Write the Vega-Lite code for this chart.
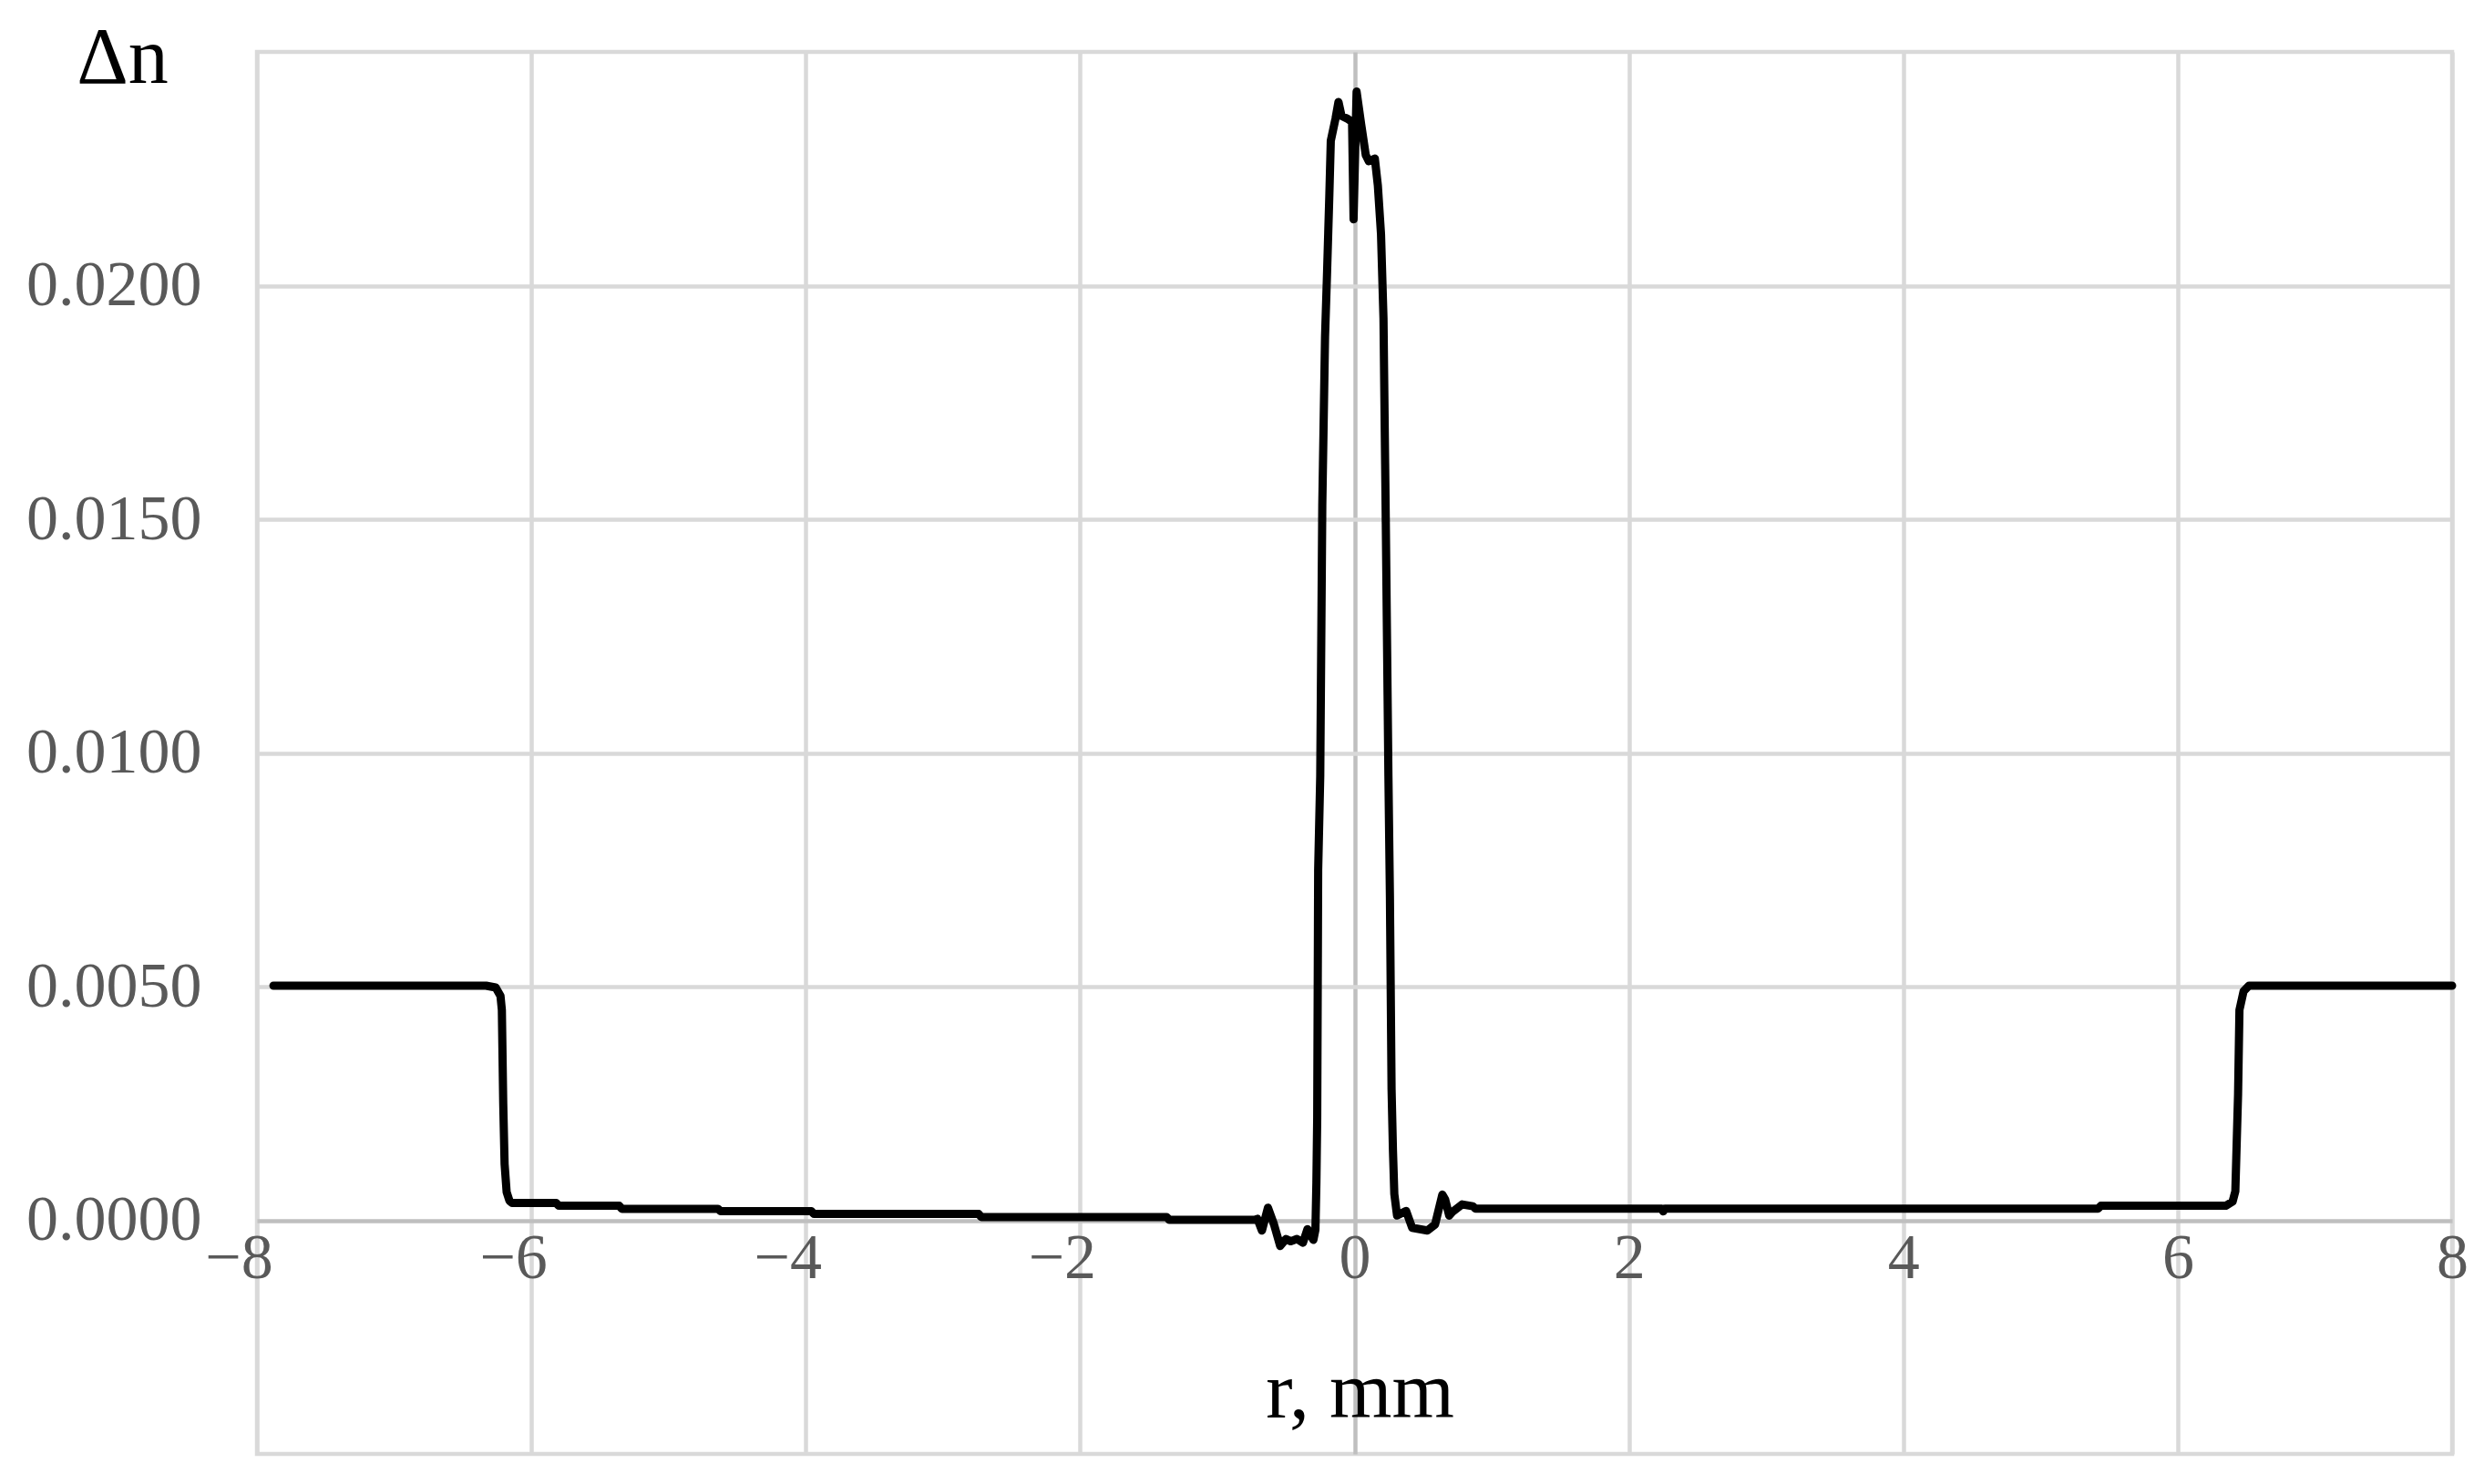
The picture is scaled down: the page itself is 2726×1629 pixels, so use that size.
{
  "$schema": "https://vega.github.io/schema/vega-lite/v6.json",
  "autosize": {"type": "none"},
  "width": 2409,
  "height": 1539,
  "padding": {"left": 282, "top": 57, "right": 35, "bottom": 33},
  "background": "white",
  "config": {
    "view": {"stroke": "#d9d9d9", "strokeWidth": 4.5}
  },
  "data": {"values": [
    {"r": -7.88, "dn": 0.00502}, {"r": -6.33, "dn": 0.00502}, {"r": -6.26, "dn": 0.00498},
    {"r": -6.225, "dn": 0.0048}, {"r": -6.215, "dn": 0.0045}, {"r": -6.205, "dn": 0.0025},
    {"r": -6.195, "dn": 0.0012}, {"r": -6.18, "dn": 0.0006}, {"r": -6.16, "dn": 0.00042},
    {"r": -6.14, "dn": 0.00037}, {"r": -5.82, "dn": 0.00037}, {"r": -5.8, "dn": 0.00031},
    {"r": -5.36, "dn": 0.00031}, {"r": -5.34, "dn": 0.000246}, {"r": -4.64, "dn": 0.000246},
    {"r": -4.62, "dn": 0.000194}, {"r": -3.96, "dn": 0.000194}, {"r": -3.94, "dn": 0.000135},
    {"r": -2.74, "dn": 0.000135}, {"r": -2.72, "dn": 0.00007}, {"r": -1.37, "dn": 0.00007},
    {"r": -1.35, "dn": 0.00001}, {"r": -0.73, "dn": 0.00001}, {"r": -0.708, "dn": 0.00003},
    {"r": -0.675, "dn": -0.00022}, {"r": -0.631, "dn": 0.00027}, {"r": -0.587, "dn": -0.00009},
    {"r": -0.542, "dn": -0.00055}, {"r": -0.5, "dn": -0.0004}, {"r": -0.465, "dn": -0.00045},
    {"r": -0.42, "dn": -0.0004}, {"r": -0.376, "dn": -0.00048}, {"r": -0.343, "dn": -0.00019},
    {"r": -0.3, "dn": -0.00042}, {"r": -0.285, "dn": -0.0002}, {"r": -0.278, "dn": 0.0008},
    {"r": -0.272, "dn": 0.0022}, {"r": -0.265, "dn": 0.0075}, {"r": -0.25, "dn": 0.0095},
    {"r": -0.235, "dn": 0.0153}, {"r": -0.215, "dn": 0.0189}, {"r": -0.2, "dn": 0.0203},
    {"r": -0.184, "dn": 0.0219}, {"r": -0.173, "dn": 0.0231}, {"r": -0.139, "dn": 0.02357},
    {"r": -0.117, "dn": 0.02393}, {"r": -0.095, "dn": 0.02363}, {"r": -0.051, "dn": 0.02357},
    {"r": -0.018, "dn": 0.0235}, {"r": -0.007, "dn": 0.02142}, {"r": 0.015, "dn": 0.02415},
    {"r": 0.049, "dn": 0.02344}, {"r": 0.082, "dn": 0.02279}, {"r": 0.104, "dn": 0.02266},
    {"r": 0.148, "dn": 0.02272}, {"r": 0.17, "dn": 0.02214}, {"r": 0.193, "dn": 0.0211},
    {"r": 0.211, "dn": 0.0193}, {"r": 0.228, "dn": 0.0149}, {"r": 0.247, "dn": 0.0095},
    {"r": 0.258, "dn": 0.0069}, {"r": 0.27, "dn": 0.0028}, {"r": 0.28, "dn": 0.0015},
    {"r": 0.29, "dn": 0.00056}, {"r": 0.31, "dn": 0.0001}, {"r": 0.376, "dn": 0.0002},
    {"r": 0.42, "dn": -0.00016}, {"r": 0.531, "dn": -0.00022}, {"r": 0.587, "dn": -0.00009},
    {"r": 0.64, "dn": 0.00055}, {"r": 0.66, "dn": 0.00045}, {"r": 0.69, "dn": 0.0001},
    {"r": 0.71, "dn": 0.00017}, {"r": 0.785, "dn": 0.00034}, {"r": 0.863, "dn": 0.0003},
    {"r": 0.88, "dn": 0.00025}, {"r": 2.24, "dn": 0.00025}, {"r": 2.25, "dn": 0.00019},
    {"r": 2.26, "dn": 0.00025}, {"r": 5.42, "dn": 0.00025}, {"r": 5.44, "dn": 0.00031},
    {"r": 6.35, "dn": 0.00031}, {"r": 6.4, "dn": 0.0004}, {"r": 6.42, "dn": 0.00062},
    {"r": 6.44, "dn": 0.0027}, {"r": 6.45, "dn": 0.0045}, {"r": 6.48, "dn": 0.0049},
    {"r": 6.52, "dn": 0.00502}, {"r": 8.0, "dn": 0.00502}
  ]},
  "mark": {"type": "line", "color": "black", "strokeWidth": 9, "strokeJoin": "round", "strokeCap": "round"},
  "encoding": {
    "x": {
      "field": "r", "type": "quantitative",
      "scale": {"domain": [-8, 8], "nice": false, "zero": false},
      "axis": {
        "values": [-8, -6, -4, -2, 0, 2, 4, 6, 8],
        "offset": -256.5,
        "domain": false, "ticks": false,
        "grid": true, "gridWidth": 4.5,
        "gridColor": {"condition": {"test": "datum.value === 0", "value": "#bfbfbf"}, "value": "#d9d9d9"},
        "labelFont": "Liberation Serif", "labelFontSize": 70, "labelColor": "#595959",
        "labelPadding": 8, "labelFlush": false, "labelOverlap": false, "labelBound": false, "labelLimit": 0,
        "labelOffset": {"condition": {"test": "datum.value < 0", "value": -20}, "value": 0},
        "title": "r, mm",
        "titleFont": "Liberation Serif", "titleFontSize": 88, "titleFontWeight": "normal", "titleColor": "black",
        "titleX": 1210, "titleY": 216, "titleAlign": "center", "titleBaseline": "alphabetic"
      }
    },
    "y": {
      "field": "dn", "type": "quantitative",
      "scale": {"domain": [-0.005, 0.025], "nice": false, "zero": false},
      "axis": {
        "values": [0, 0.005, 0.01, 0.015, 0.02],
        "format": ".4f",
        "domain": false, "ticks": false,
        "grid": true, "gridWidth": 4.5,
        "gridColor": {"condition": {"test": "datum.value === 0", "value": "#bfbfbf"}, "value": "#d9d9d9"},
        "labelFont": "Liberation Serif", "labelFontSize": 70, "labelColor": "#595959",
        "labelPadding": 61, "labelFlush": false, "labelOverlap": false, "labelLimit": 0,
        "title": "Δn",
        "titleFont": "Liberation Serif", "titleFontSize": 88, "titleFontWeight": "normal", "titleColor": "black",
        "titleAngle": 0, "titleX": -148, "titleY": 33, "titleAlign": "center", "titleBaseline": "alphabetic"
      }
    }
  }
}
